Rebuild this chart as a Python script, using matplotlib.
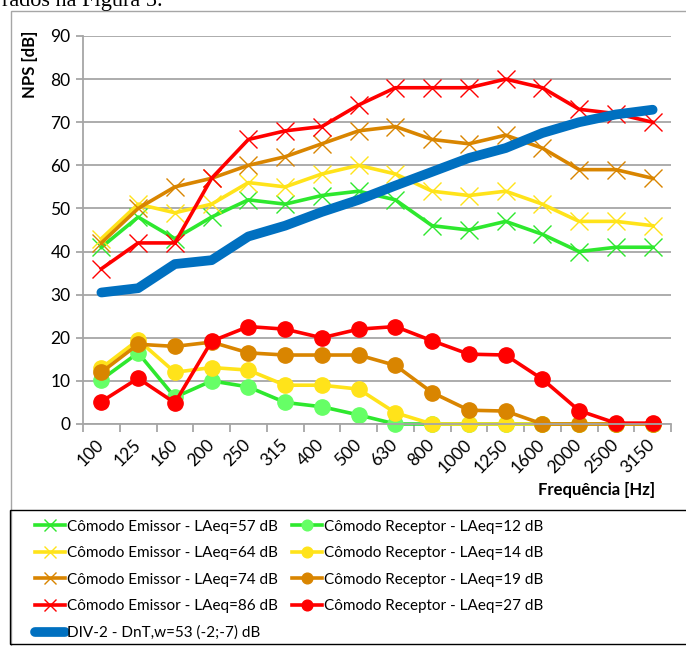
import matplotlib.pyplot as plt
from matplotlib.patches import Rectangle

plt.rcParams['font.family'] = ['Lato', 'DejaVu Sans']

freqs = ['100', '125', '160', '200', '250', '315', '400', '500', '630',
         '800', '1000', '1250', '1600', '2000', '2500', '3150']

emissor_57 = [41, 48, 43, 48, 52, 51, 53, 54, 52, 46, 45, 47, 44, 40, 41, 41]
emissor_64 = [43, 51, 49, 51, 56, 55, 58, 60, 58, 54, 53, 54, 51, 47, 47, 46]
emissor_74 = [42, 50, 55, 57, 60, 62, 65, 68, 69, 66, 65, 67, 64, 59, 59, 57]
emissor_86 = [36, 42, 42, 57, 66, 68, 69, 74, 78, 78, 78, 80, 78, 73, 72, 70]

receptor_12 = [10.3, 16.5, 6.2, 10, 8.6, 5, 4, 2.1, 0, 0, 0, 0, 0, 0, 0, 0]
receptor_14 = [13, 19.5, 12, 13.1, 12.5, 9, 9, 8.1, 2.6, 0, 0, 0, 0, 0, 0, 0]
receptor_19 = [12, 18.5, 18, 19, 16.5, 16, 16, 16, 13.6, 7.3, 3.2, 3, 0, 0, 0, 0]
receptor_27 = [5.2, 10.6, 4.9, 19.2, 22.6, 22, 20, 22, 22.6, 19.3, 16.2, 16, 10.4, 3.1, 0.2, 0.2]

dnt = [30.5, 31.5, 37.1, 38, 43.5, 46, 49.2, 52, 55.3, 58.5, 61.7, 64, 67.5, 70, 71.8, 72.9]

x = list(range(len(freqs)))

fig = plt.figure(figsize=(6.86, 6.46), dpi=100)

# texto cortado do documento
fig.text(2 / 686, 1 - 6 / 646, 'rados na Figura 5.', family='Liberation Serif',
         fontsize=16, va='baseline', ha='left')

# moldura do gráfico
fig.patches.append(Rectangle((11 / 686, -0.1), 1.2, 1 - 11 / 646 + 0.1,
                             transform=fig.transFigure, fill=False,
                             edgecolor='#a6a6a6', lw=1.0))

ax = fig.add_axes([83 / 686, 1 - 424 / 646, (671 - 83) / 686, 388 / 646])

lw = 2.6
series = [
    (emissor_57, '#2ee82e', 'x', 'Cômodo Emissor - LAeq=57 dB', '#2ee82e'),
    (receptor_12, '#2ee82e', 'o', 'Cômodo Receptor - LAeq=12 dB', '#66ff66'),
    (emissor_64, '#ffe31a', 'x', 'Cômodo Emissor - LAeq=64 dB', '#ffe31a'),
    (receptor_14, '#ffe31a', 'o', 'Cômodo Receptor - LAeq=14 dB', '#ffe31a'),
    (emissor_74, '#d98500', 'x', 'Cômodo Emissor - LAeq=74 dB', '#d98500'),
    (receptor_19, '#d98500', 'o', 'Cômodo Receptor - LAeq=19 dB', '#d98500'),
    (emissor_86, '#ff0000', 'x', 'Cômodo Emissor - LAeq=86 dB', '#ff0000'),
    (receptor_27, '#ff0000', 'o', 'Cômodo Receptor - LAeq=27 dB', '#ff0000'),
]

handles = {}
for vals, col, mk, lab, mcol in series:
    if mk == 'x':
        h, = ax.plot(x, vals, color=col, lw=lw, marker='x', ms=13, mew=1.0,
                     mec=mcol, label=lab, clip_on=False)
    else:
        h, = ax.plot(x, vals, color=col, lw=lw, marker='o', ms=11,
                     mfc=mcol, mec=mcol, label=lab, clip_on=False)
    handles[lab] = h

hb, = ax.plot(x, dnt, color='#0070c0', lw=7, solid_capstyle='round',
              label='DIV-2 - DnT,w=53 (-2;-7) dB')

ax.set_xlim(-0.5, len(freqs) - 0.5)
ax.set_ylim(0, 90)
ax.set_yticks(range(0, 91, 10))
ax.grid(axis='y', color='#a6a6a6', lw=1.3)
ax.set_axisbelow(True)
for s in ['top', 'right']:
    ax.spines[s].set_visible(False)
for s in ['left', 'bottom']:
    ax.spines[s].set_color('#a6a6a6')
    ax.spines[s].set_linewidth(1.3)

ax.set_xticks([i - 0.5 for i in range(len(freqs) + 1)])
ax.set_xticklabels([])
ax.set_xticks(x, minor=True)
ax.set_xticklabels(freqs, minor=True, rotation=45, ha='right', va='center',
                   rotation_mode='anchor', fontsize=12.5)
ax.tick_params(axis='x', which='minor', length=0, pad=13)
ax.tick_params(axis='x', which='major', length=6, color='#a6a6a6', width=1.3)
ax.tick_params(axis='y', length=5, color='#a6a6a6', width=1.3, labelsize=12.5, pad=4)

fig.text(30 / 686, 1 - 64 / 646, 'NPS [dB]', rotation=90, fontweight='bold',
         fontsize=12, ha='center', va='center')
fig.text(655 / 686, 1 - 490 / 646, 'Frequência [Hz]', fontweight='bold',
         fontsize=12, ha='right', va='center')

# legenda
fig.patches.append(Rectangle((10 / 686, 1 - 644 / 646), 1.0, 134 / 646,
                             transform=fig.transFigure, fill=False,
                             edgecolor='black', lw=1.0))
order = ['Cômodo Emissor - LAeq=57 dB', 'Cômodo Emissor - LAeq=64 dB',
         'Cômodo Emissor - LAeq=74 dB', 'Cômodo Emissor - LAeq=86 dB']
order2 = ['Cômodo Receptor - LAeq=12 dB', 'Cômodo Receptor - LAeq=14 dB',
          'Cômodo Receptor - LAeq=19 dB', 'Cômodo Receptor - LAeq=27 dB']
hl = [handles[k] for k in order] + [hb] + [handles[k] for k in order2]
ll = order + ['DIV-2 - DnT,w=53 (-2;-7) dB'] + order2
leg = fig.legend(hl, ll, ncol=2, loc='upper left',
                 bbox_to_anchor=(27 / 686, 1 - 512 / 646), frameon=False,
                 fontsize=11, handlelength=2.0, handletextpad=0.12,
                 columnspacing=0.9, labelspacing=0.82, borderpad=0,
                 markerscale=0.7)

fig.savefig('out.png', dpi=100)
